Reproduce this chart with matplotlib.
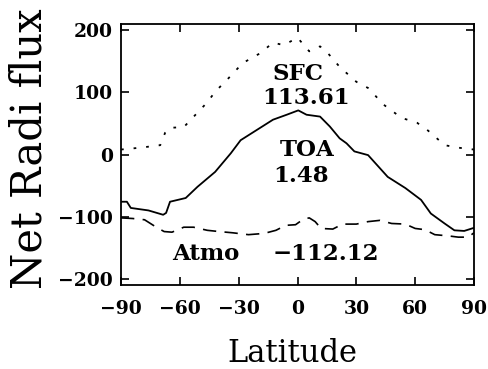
import matplotlib
matplotlib.use("Agg")
import matplotlib.pyplot as plt

# zonal mean net radiative flux (W/m2)
sfc_lat = [-90, -80, -70, -67.5, -65, -58, -52, -46, -42, -36, -28, -19, -12.5, -7,
           0, 6, 11.5, 15.5, 21.5, 30, 36, 44, 53, 61, 66, 70, 75, 82, 87, 90]
sfc_val = [8, 11, 15, 35, 43, 44, 64, 84, 101, 120, 147, 163, 180, 176,
           188, 166, 174, 163, 141, 117, 107, 80, 59, 51, 40, 29, 15, 11, 9, 8]

toa_lat = [-90, -87, -85, -76, -68.5, -67, -65, -57, -51, -42, -34, -29, -19, -12.5, -5.5,
           0.4, 4.6, 11.5, 16.5, 21.5, 25, 29, 36, 46, 55, 63, 68, 75, 80, 85, 88, 90]
toa_val = [-76, -76, -86, -90, -97, -94, -76, -70, -52, -28, 2, 23, 43, 56, 64,
           71, 64, 61, 45, 26, 18, 5, -1, -36, -54, -73, -95, -111, -122, -123, -120, -118]

atm_lat = [-90, -84, -78, -72, -68, -64, -58, -53, -46, -40, -33, -25, -17, -11, -6, -1,
           3, 6, 9, 12, 18, 23, 30, 36, 42, 48, 55, 60, 65, 70, 77, 82, 87, 90]
atm_val = [-102, -103, -105, -117, -124, -125, -117, -117, -122, -124, -126, -129, -127, -122, -114, -113,
           -104, -102, -108, -119, -120, -112, -112, -108, -106, -111, -112, -119, -121, -129, -131, -133, -133, -126]

xticks = [-90, -60, -30, 0, 30, 60, 90]
yticks = [-200, -100, 0, 100, 200]

# (label, lat, flux baseline)
labels = [
    ("SFC", 0, 120),
    ("113.61", 4.2, 81),
    ("TOA", 4.7, -2),
    ("1.48", 1.7, -44),
    ("Atmo", -46.8, -170),
    ("\u2212112.12", 14.4, -170),
]

fig = plt.figure(figsize=(4.88, 3.69), dpi=100)
ax = fig.add_axes([121 / 488, 1 - 285 / 369, 353 / 488, 261 / 369])

ax.plot(sfc_lat, sfc_val, color="black", lw=1.3, linestyle=(0, (1.5, 5.5)))
ax.plot(toa_lat, toa_val, color="black", lw=1.3)
ax.plot(atm_lat, atm_val, color="black", lw=1.2, linestyle=(0, (8, 5)))

ax.set_xlim(-90, 90)
ax.set_ylim(-210, 210)
ax.set_xticks(xticks)
ax.set_yticks(yticks)
ax.tick_params(direction="in", top=True, right=True, length=6, width=1.2,
               labelsize=13.5, pad=11)
ax.tick_params(axis="y", pad=6)
for lab in ax.get_xticklabels() + ax.get_yticklabels():
    lab.set_family("DejaVu Serif")
    lab.set_fontweight("bold")
for sp in ax.spines.values():
    sp.set_linewidth(1.3)

for txt, x, y in labels:
    ax.text(x, y, txt, ha="center", va="baseline", fontsize=16.5,
            family="DejaVu Serif", fontweight="bold")

fig.text(292.5 / 488, 7.5 / 369, "Latitude", ha="center", va="baseline",
         fontsize=22, family="DejaVu Serif")
fig.text(41.7 / 488, 1 - 148.5 / 369, "Net Radi flux", ha="center", va="baseline",
         rotation=90, rotation_mode="anchor", fontsize=30, family="DejaVu Serif")

fig.savefig("out.png", dpi=100)
